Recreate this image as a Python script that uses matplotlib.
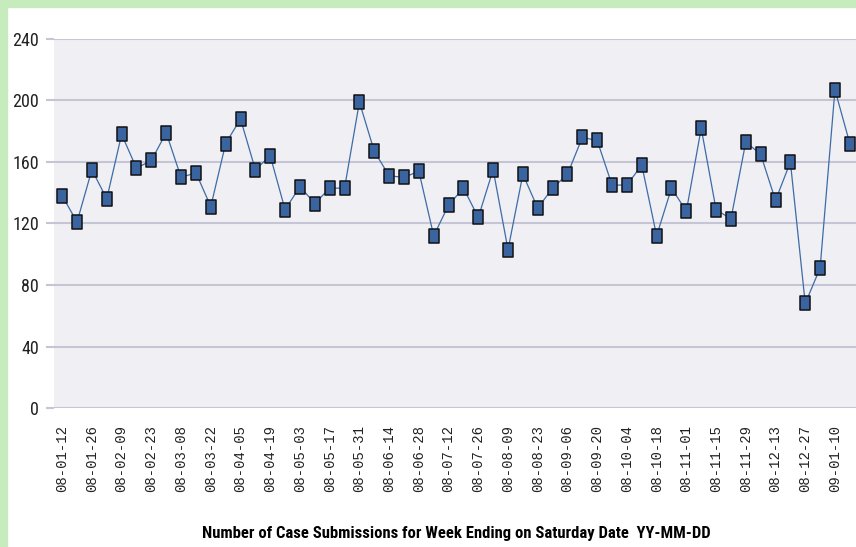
import matplotlib.pyplot as plt
from matplotlib.path import Path
import matplotlib.patches as mpatches

# weekly submissions, week ending Saturday, 08-01-12 .. 09-01-17
weeks = ["08-01-12", "08-01-19", "08-01-26", "08-02-02", "08-02-09", "08-02-16",
         "08-02-23", "08-03-01", "08-03-08", "08-03-15", "08-03-22", "08-03-29",
         "08-04-05", "08-04-12", "08-04-19", "08-04-26", "08-05-03", "08-05-10",
         "08-05-17", "08-05-24", "08-05-31", "08-06-07", "08-06-14", "08-06-21",
         "08-06-28", "08-07-05", "08-07-12", "08-07-19", "08-07-26", "08-08-02",
         "08-08-09", "08-08-16", "08-08-23", "08-08-30", "08-09-06", "08-09-13",
         "08-09-20", "08-09-27", "08-10-04", "08-10-11", "08-10-18", "08-10-25",
         "08-11-01", "08-11-08", "08-11-15", "08-11-22", "08-11-29", "08-12-06",
         "08-12-13", "08-12-20", "08-12-27", "09-01-03", "09-01-10", "09-01-17"]
submissions = [138, 121, 155, 136, 178, 156, 161, 179, 150, 153, 131, 172,
               188, 155, 164, 129, 144, 133, 143, 143, 199, 167, 151, 150,
               154, 112, 132, 143, 124, 155, 103, 152, 130, 143, 152, 176,
               174, 145, 145, 158, 112, 143, 128, 182, 129, 123, 173, 165,
               135, 160, 68, 91, 207, 172]
y_ticks = [0, 40, 80, 120, 160, 200, 240]

narrow = ["Roboto Condensed", "Archivo Narrow", "DejaVu Sans"]

fig = plt.figure(figsize=(8.56, 5.47), dpi=100)
fig.patch.set_facecolor("white")

# green frame on the left and top edges
green = "#c6ecbe"
fig.patches.append(mpatches.Rectangle((0, 0), 7 / 856, 1, transform=fig.transFigure,
                                      color=green, zorder=0))
fig.patches.append(mpatches.Rectangle((0, 1 - 7 / 547), 1, 7 / 547, transform=fig.transFigure,
                                      color=green, zorder=0))

ax = fig.add_axes([54 / 856, 139 / 547, 804 / 856, 369 / 547])
ax.set_facecolor("#efeff4")

box = Path([(-0.32, -0.5), (0.32, -0.5), (0.32, 0.5), (-0.32, 0.5), (-0.32, -0.5)],
           [Path.MOVETO, Path.LINETO, Path.LINETO, Path.LINETO, Path.CLOSEPOLY])

x = list(range(len(weeks)))
ax.plot(x, submissions, color="#3d6ca6", linewidth=0.9, zorder=3)
ax.plot(x, submissions, linestyle="none", marker=box, markersize=10.5,
        markerfacecolor="#3a64a0", markeredgecolor="#111111", markeredgewidth=1.1, zorder=4)

ax.set_xlim(-0.55, 53.55)
ax.set_ylim(0, 240)

grid_c = "#c6c5d6"
ax.set_yticks(y_ticks)
ax.set_yticklabels([str(v) for v in y_ticks], family=narrow, fontsize=13, color="#222222")
ax.yaxis.grid(True, color=grid_c, linewidth=1.5)
ax.set_axisbelow(True)
ax.tick_params(axis="y", length=5.8, width=1.5, color=grid_c, pad=5)

ax.set_xticks(x[::2])
ax.set_xticklabels(weeks[::2], rotation=90, family="Liberation Mono", fontsize=10,
                   color="#222222")
ax.tick_params(axis="x", length=0, pad=12)

for s in ax.spines.values():
    s.set_visible(False)

ax.set_xlabel("Number of Case Submissions for Week Ending on Saturday Date  YY-MM-DD",
              family=narrow, fontweight="bold", fontsize=12, labelpad=25)

fig.savefig("out.png", dpi=100)
